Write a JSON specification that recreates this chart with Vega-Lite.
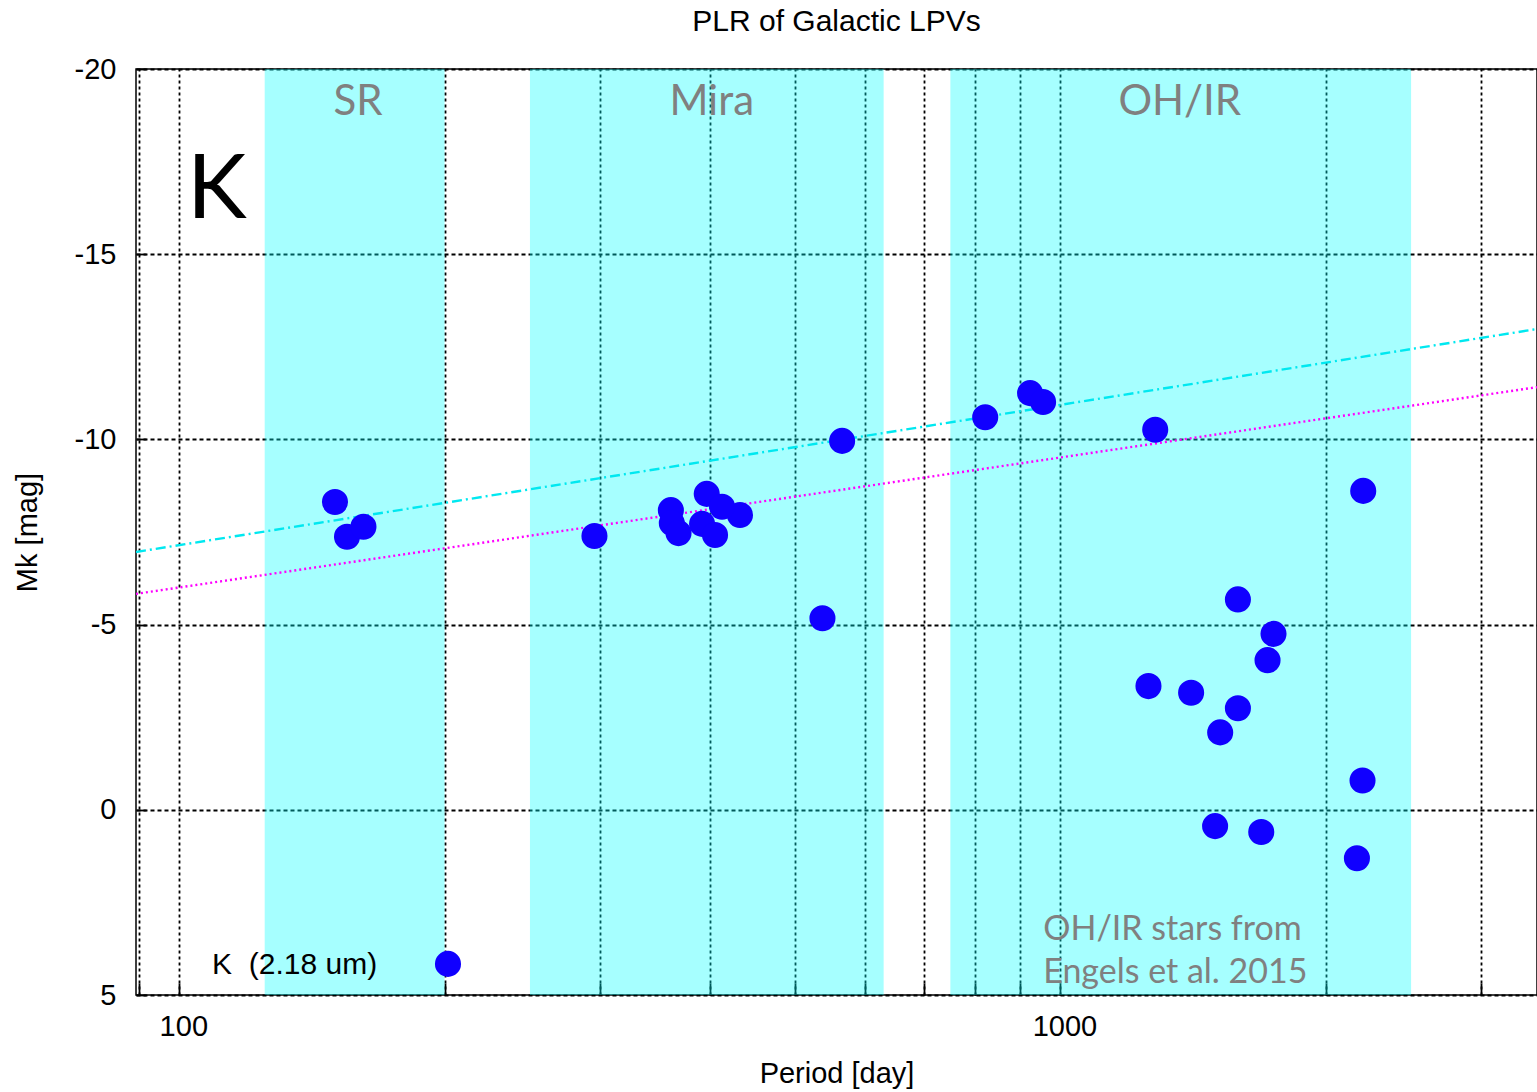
{
  "$schema": "https://vega.github.io/schema/vega-lite/v6.json",
  "width": 1401,
  "height": 926,
  "autosize": {"type": "none"},
  "padding": {"left": 136, "top": 69, "right": 0, "bottom": 97},
  "background": "white",
  "title": {"text": "PLR of Galactic LPVs", "frame": "group", "anchor": "middle", "offset": 18, "font": "Liberation Sans", "fontSize": 30, "fontWeight": "normal", "color": "#000"},
  "config": {
    "view": {"stroke": "#000", "strokeWidth": 1.5},
    "axis": {
      "domain": false,
      "grid": true,
      "gridColor": "#000",
      "gridWidth": 1.8,
      "gridOpacity": 1,
      "tickColor": "#000",
      "tickWidth": 1.8,
      "labelFont": "Liberation Sans",
      "labelFontSize": 29,
      "labelColor": "#000",
      "titleFont": "Liberation Sans",
      "titleFontSize": 29,
      "titleFontWeight": "normal",
      "titleColor": "#000",
      "labelOverlap": false,
      "labelFlush": false
    }
  },
  "datasets": {
    "bands": [
      {"band": "SR", "P": 125, "P2": 200},
      {"band": "Mira", "P": 250, "P2": 630},
      {"band": "OH/IR", "P": 750, "P2": 2500}
    ],
    "bandLabels": [
      {"label": "SR", "P": 159.5, "Mk": -18.76},
      {"label": "Mira", "P": 402, "Mk": -18.76},
      {"label": "OH/IR", "P": 1366, "Mk": -18.76}
    ],
    "fits": [
      {"series": "cyan", "P": 89.3, "Mk": -6.96},
      {"series": "cyan", "P": 3474, "Mk": -12.98},
      {"series": "magenta", "P": 89.3, "Mk": -5.83},
      {"series": "magenta", "P": 3474, "Mk": -11.41}
    ],
    "stars": [
      {"P": 150.2, "Mk": -8.31},
      {"P": 155.0, "Mk": -7.37},
      {"P": 161.8, "Mk": -7.64},
      {"P": 295.9, "Mk": -7.39},
      {"P": 361.3, "Mk": -8.09},
      {"P": 362.2, "Mk": -7.74},
      {"P": 368.6, "Mk": -7.47},
      {"P": 396.8, "Mk": -8.53},
      {"P": 392.0, "Mk": -7.72},
      {"P": 405.5, "Mk": -7.42},
      {"P": 432.8, "Mk": -7.96},
      {"P": 413.0, "Mk": -8.18},
      {"P": 536.9, "Mk": -5.17},
      {"P": 565.2, "Mk": -9.96},
      {"P": 821.5, "Mk": -10.60},
      {"P": 923.7, "Mk": -11.25},
      {"P": 955.6, "Mk": -11.01},
      {"P": 1281, "Mk": -10.26},
      {"P": 2206, "Mk": -8.61},
      {"P": 1590, "Mk": -5.68},
      {"P": 1745, "Mk": -4.75},
      {"P": 1718, "Mk": -4.04},
      {"P": 1258.6, "Mk": -3.34},
      {"P": 1407, "Mk": -3.16},
      {"P": 1590, "Mk": -2.74},
      {"P": 1518, "Mk": -2.09},
      {"P": 2202, "Mk": -0.79},
      {"P": 1498, "Mk": 0.44},
      {"P": 1690, "Mk": 0.60},
      {"P": 2170, "Mk": 1.31}
    ],
    "legend": [
      {"label": "K\u00a0 (2.18 um)", "P": 167.7, "Mk": 4.43, "dotP": 201.8, "dotMk": 4.16}
    ],
    "notes": [
      {"text": "K", "P": 102, "Mk": -15.98},
      {"text": "OH/IR stars from", "P": 956, "Mk": 3.52},
      {"text": "Engels et al. 2015", "P": 956, "Mk": 4.68}
    ]
  },
  "layer": [
    {
      "data": {"name": "bands"},
      "mark": {"type": "rect", "color": "#00FFFF", "opacity": 0.35},
      "encoding": {
        "x": {
          "field": "P", "type": "quantitative",
          "scale": {"type": "log", "domain": [89.3, 3474], "nice": false, "zero": false},
          "axis": {
            "title": "Period [day]",
            "values": [90, 100, 200, 300, 400, 500, 600, 700, 800, 900, 1000, 2000, 3000],
            "labelExpr": "datum.value == 100 || datum.value == 1000 ? datum.value + '' : ''",
            "gridDash": [3, 3],
            "tickSize": -12,
            "labelPadding": 29,
            "labelOffset": 4,
            "titlePadding": 18
          }
        },
        "x2": {"field": "P2"},
        "y": {
          "datum": -20, "type": "quantitative",
          "scale": {"domain": [-20, 5], "reverse": true, "nice": false, "zero": false},
          "axis": {
            "title": "Mk [mag]",
            "values": [-20, -15, -10, -5, 0, 5],
            "labelExpr": "datum.value + ''",
            "gridDash": [4, 3],
            "tickSize": -10,
            "labelPadding": 30,
            "titlePadding": 32
          }
        },
        "y2": {"datum": 5}
      }
    },
    {
      "data": {"name": "fits"},
      "transform": [{"filter": "datum.series == 'cyan'"}],
      "mark": {"type": "line", "color": "#00E8F0", "strokeWidth": 2.4, "strokeDash": [10, 4, 2, 4], "clip": true},
      "encoding": {
        "x": {"field": "P", "type": "quantitative", "title": "Period [day]"},
        "y": {"field": "Mk", "type": "quantitative", "title": "Mk [mag]"}
      }
    },
    {
      "data": {"name": "fits"},
      "transform": [{"filter": "datum.series == 'magenta'"}],
      "mark": {"type": "line", "color": "#FF00FF", "strokeWidth": 2.4, "strokeDash": [2, 3], "clip": true},
      "encoding": {
        "x": {"field": "P", "type": "quantitative", "title": "Period [day]"},
        "y": {"field": "Mk", "type": "quantitative", "title": "Mk [mag]"}
      }
    },
    {
      "data": {"name": "stars"},
      "mark": {"type": "point", "shape": "circle", "filled": true, "color": "#1000FF", "opacity": 1, "size": 680},
      "encoding": {
        "x": {"field": "P", "type": "quantitative", "title": "Period [day]"},
        "y": {"field": "Mk", "type": "quantitative", "title": "Mk [mag]"}
      }
    },
    {
      "data": {"name": "bandLabels"},
      "mark": {"type": "text", "font": "Lato", "fontSize": 42, "color": "#808080", "align": "center", "baseline": "alphabetic"},
      "encoding": {
        "x": {"field": "P", "type": "quantitative", "title": "Period [day]"},
        "y": {"field": "Mk", "type": "quantitative", "title": "Mk [mag]"},
        "text": {"field": "label"}
      }
    },
    {
      "data": {"name": "notes"},
      "transform": [{"filter": "datum.text == 'K'"}],
      "mark": {"type": "text", "font": "Lato", "fontSize": 90, "color": "#000", "align": "left", "baseline": "alphabetic"},
      "encoding": {
        "x": {"field": "P", "type": "quantitative", "title": "Period [day]"},
        "y": {"field": "Mk", "type": "quantitative", "title": "Mk [mag]"},
        "text": {"field": "text"}
      }
    },
    {
      "data": {"name": "notes"},
      "transform": [{"filter": "datum.text != 'K'"}],
      "mark": {"type": "text", "font": "Lato", "fontSize": 34, "color": "#808080", "align": "left", "baseline": "alphabetic"},
      "encoding": {
        "x": {"field": "P", "type": "quantitative", "title": "Period [day]"},
        "y": {"field": "Mk", "type": "quantitative", "title": "Mk [mag]"},
        "text": {"field": "text"}
      }
    },
    {
      "data": {"name": "legend"},
      "mark": {"type": "text", "font": "Liberation Sans", "fontSize": 30, "color": "#000", "align": "right", "baseline": "alphabetic"},
      "encoding": {
        "x": {"field": "P", "type": "quantitative", "title": "Period [day]"},
        "y": {"field": "Mk", "type": "quantitative", "title": "Mk [mag]"},
        "text": {"field": "label"}
      }
    },
    {
      "data": {"name": "legend"},
      "mark": {"type": "point", "shape": "circle", "filled": true, "color": "#1000FF", "opacity": 1, "size": 680},
      "encoding": {
        "x": {"field": "dotP", "type": "quantitative", "title": "Period [day]"},
        "y": {"field": "dotMk", "type": "quantitative", "title": "Mk [mag]"}
      }
    }
  ]
}
